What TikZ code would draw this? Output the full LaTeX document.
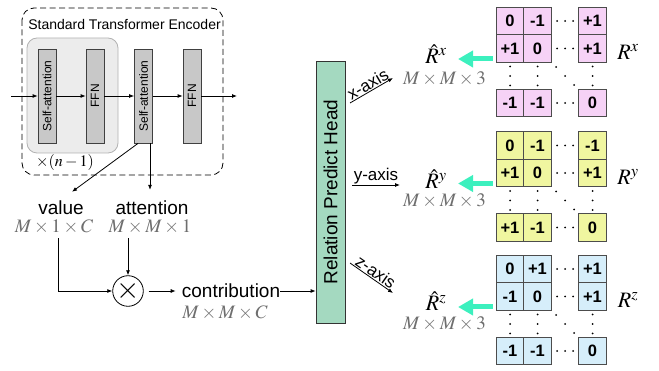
\documentclass[tikz,border=0pt]{standalone}
\usepackage{mathptmx}
\usepackage[no-math]{fontspec}
\setmainfont{Liberation Sans}
\usetikzlibrary{arrows.meta}
\definecolor{headgreen}{RGB}{164,217,192}
\definecolor{blockgray}{RGB}{200,200,200}
\definecolor{boxgray}{RGB}{236,236,236}
\definecolor{dimgray}{RGB}{110,110,110}
\definecolor{turq}{RGB}{60,240,190}
\definecolor{cellx}{RGB}{246,210,246}
\definecolor{celly}{RGB}{240,246,160}
\definecolor{cellz}{RGB}{214,238,250}

\begin{document}
\begin{tikzpicture}[x=1pt,y=-1pt]
  \tikzset{ blk/.style={draw=black!75,fill=blockgray,line width=0.8pt,minimum width=18pt,minimum height=94pt,inner sep=0pt},
    vtxt/.style={rotate=90,font=\fontsize{12}{12}\selectfont,inner sep=0pt},
    word/.style={font=\fontsize{19}{19}\selectfont,inner sep=0pt},
    dim/.style={font=\fontsize{19}{19}\selectfont,text=dimgray,inner sep=0pt},
    axis/.style={font=\fontsize{17}{17}\selectfont,inner sep=1pt},
    cell/.style={draw=black!70,line width=0.8pt,minimum size=27.5pt,inner sep=0pt,font=\fontsize{16.5}{16.5}\selectfont\bfseries},
    arr/.style={-{Latex[length=5pt,width=4pt]},line width=0.8pt},
    big/.style={-{Triangle[length=15pt,width=16pt]},line width=5pt,turq},
    dot/.style={circle,fill=black,inner sep=0pt,minimum size=2pt},
  }
  \useasboundingbox (0,0) rectangle (659,371);

  % encoder
  \draw[dash pattern=on 6pt off 3.5pt,rounded corners=12pt,line width=0.8pt] (22,8) rectangle (223,175);
  \node[font=\fontsize{14}{14}\selectfont,inner sep=0pt] (title) at (124.5,25) {Standard Transformer Encoder};
  \draw[fill=boxgray,draw=black!30,line width=0.8pt,rounded corners=10pt] (27,38) rectangle (118,153);
  \node[font=\fontsize{16}{16}\selectfont,inner sep=0pt] (rep) at (65,163) {$\times(n-1)$};

  \node[blk] (sa1) at (47,96)    {};
  \node[blk] (ffn1) at (95,96)   {};
  \node[blk] (sa2) at (143.5,96) {};
  \node[blk] (ffn2) at (192,96)  {};
  \node[vtxt] at (sa1)  {Self-attention};
  \node[vtxt] at (ffn1) {FFN};
  \node[vtxt] at (sa2)  {Self-attention};
  \node[vtxt] at (ffn2) {FFN};

  \coordinate (in) at (11,96);
  \coordinate (out) at (237,96);
  \draw[arr] (in) -- (sa1.west);
  \draw[arr] (sa1.east) -- (ffn1.west);
  \draw[arr] (ffn1.east) -- (sa2.west);
  \draw[arr] (sa2.east) -- (ffn2.west);
  \draw[arr] (ffn2.east) -- (out);

  % value and attention
  \node[word] (val) at (61,208)    {value};
  \node[dim] (valdim) at (54,227)  {$M\times1\times C$};
  \node[word] (att) at (152,208)   {attention};
  \node[dim] (attdim) at (150,227) {$M\times M\times1$};

  \draw[arr] ([xshift=-5.5pt]sa2.south) -- ([xshift=11pt,yshift=9pt]val.north);
  \draw[arr] ([xshift=6.5pt]sa2.south) -- ([xshift=-2pt,yshift=11pt]att.north);

  \node[circle,draw,line width=0.8pt,minimum size=29pt,inner sep=0pt,font=\fontsize{30}{30}\selectfont] (mul) at (128,291) {$\times$};
  \draw[arr] ([xshift=4pt,yshift=-4pt]valdim.south) |- (mul.west);
  \draw[arr] ([xshift=-22pt,yshift=-4pt]attdim.south) -- (mul.north);

  \node[word] (con) at (231,291)    {contribution};
  \node[dim] (condim) at (225,313)  {$M\times M\times C$};
  \draw[arr] ([xshift=5pt]mul.east) -- ([xshift=-6pt]con.west);

  % head
  \node[draw=black!80,fill=headgreen,line width=0.8pt,minimum width=29pt,minimum height=262pt,inner sep=0pt] (head) at (330.5,192) {};
  \node[rotate=90,font=\fontsize{19}{19}\selectfont,inner sep=0pt] at (head) {Relation Predict Head};
  \draw[arr] (con.east) -- (con.east -| head.west);

  \coordinate (xs) at (350,103);
  \coordinate (xe) at (393,78);
  \coordinate (ys) at (352,185);
  \coordinate (ye) at (400,185);
  \coordinate (zs) at (350,263);
  \coordinate (ze) at (393,293);
  \draw[arr] (xs) -- node[axis,sloped,above] {x-axis} (xe);
  \draw[arr] (ys) -- node[axis,above] {y-axis} (ye);
  \draw[arr] (zs) -- node[axis,sloped,above] {z-axis} (ze);

  \node[font=\fontsize{22}{22}\selectfont,inner sep=0pt] (rhx) at (436,54)  {$\hat{R}^x$};
  \node[dim] (rhxdim) at (444.5,79)  {$M\times M\times3$};
  \node[font=\fontsize{22}{22}\selectfont,inner sep=0pt] (rhy) at (436,179) {$\hat{R}^y$};
  \node[dim] (rhydim) at (444.5,201) {$M\times M\times3$};
  \node[font=\fontsize{22}{22}\selectfont,inner sep=0pt] (rhz) at (436,301) {$\hat{R}^z$};
  \node[dim] (rhzdim) at (444.5,324) {$M\times M\times3$};

  % the relation matrices
  \foreach \m/\ty/\col/\a/\b/\c/\d/\e/\f/\g/\h/\i in {x/21/cellx/0/-1/+1/+1/0/+1/-1/-1/0,
      y/145.5/celly/0/-1/-1/+1/0/+1/+1/-1/0, z/269/cellz/0/+1/+1/-1/0/+1/-1/-1/0}
  {
    \node[cell,fill=\col] (\m11) at (510,\ty)        {\a};
    \node[cell,fill=\col] (\m12) at (537.5,\ty)      {\b};
    \node[cell,fill=\col] (\m13) at (592.5,\ty)      {\c};
    \node[cell,fill=\col] (\m21) at (510,\ty+27.5)   {\d};
    \node[cell,fill=\col] (\m22) at (537.5,\ty+27.5) {\e};
    \node[cell,fill=\col] (\m23) at (592.5,\ty+27.5) {\f};
    \node[cell,fill=\col] (\m31) at (510,\ty+82)     {\g};
    \node[cell,fill=\col] (\m32) at (537.5,\ty+82)   {\h};
    \node[cell,fill=\col] (\m33) at (592.5,\ty+82)   {\i};
    \foreach \dy in {0,27.5,82} {
      \foreach \dx in {-8,0,8} \node[dot] at (565+\dx,\ty+\dy) {};
    }
    \foreach \cx in {510,537.5,592.5} {
      \foreach \dy in {45.5,55,64.5} \node[dot] at (\cx,\ty+\dy) {};
    }
    \node[dot] at (556,\ty+46) {};
    \node[dot] at (565,\ty+55) {};
    \node[dot] at (574,\ty+64) {};
    \node[font=\fontsize{22}{22}\selectfont,inner sep=0pt] (R\m) at (628,\ty+31) {$R^\m$};
    \coordinate (tip\m) at (458,\ty+38);
    \draw[big] ([xshift=-3pt,yshift=-10.5pt]\m21.west) -- (tip\m);
  }
\end{tikzpicture}
\end{document}
